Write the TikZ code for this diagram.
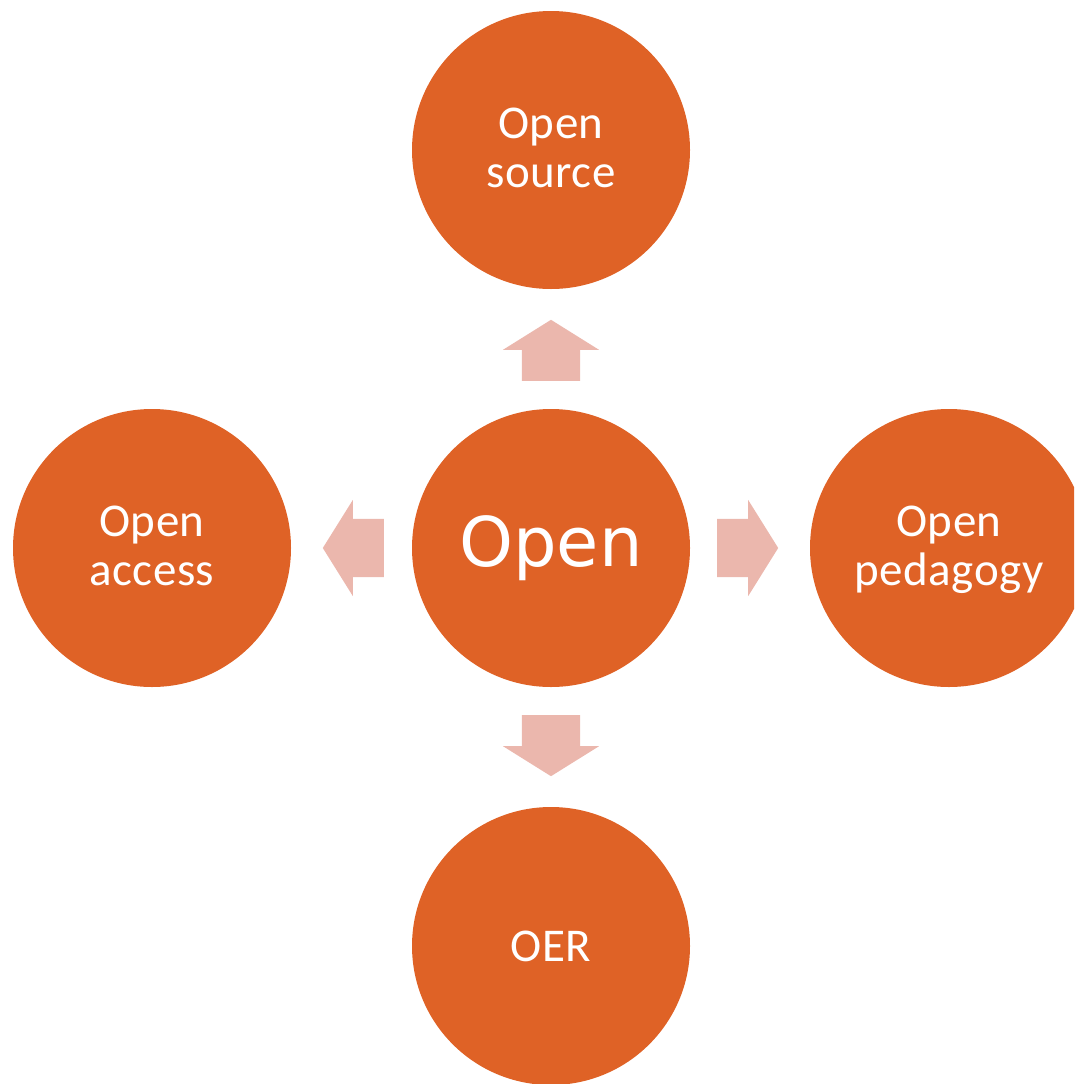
\documentclass[tikz,border=0pt]{standalone}
\usepackage{fontspec}
\setmainfont{Carlito}[LetterSpace=1]
\newfontfamily\bigfont{DejaVu Sans}
\usetikzlibrary{shapes.arrows,calc}
\definecolor{openorange}{RGB}{223,98,38}
\definecolor{arrowpink}{RGB}{235,183,173}
\newcommand{\linestrut}{\vrule height 37pt depth 12pt width 0pt}

\begin{document}
\begin{tikzpicture}[x=1pt, y=-1pt,
    bubble/.style={circle, fill=openorange, minimum size=278pt, inner sep=0pt, text=white, align=center, font=\fontsize{47}{49}\selectfont},
    blockarrow/.style={single arrow, fill=arrowpink, minimum height=61pt, inner xsep=0pt, inner ysep=29pt, single arrow head extend=19pt, single arrow tip angle=116, anchor=tail}]
    \useasboundingbox (0,0) rectangle (1074,1084);
    \clip (0,0) rectangle (1074,1084);
    % the five circles
    \node[bubble, font=\bigfont\fontsize{68.6}{80}\selectfont] (open) at (551,548) {Open};
    \node[bubble] (source) at (551,150) {\linestrut Open\\\linestrut source};
    \node[bubble] (access) at (152,548) {\linestrut Open\\\linestrut access};
    \node[bubble] (pedagogy) at (949,548) {\linestrut Open\\\linestrut pedagogy};
    \node[bubble] (oer) at (551,946) {OER};
    % the block arrows
    \node[blockarrow, rotate=90] (tosource) at ($(open)!167pt!(source)$) {};
    \node[blockarrow, rotate=180] (toaccess) at ($(open)!167pt!(access)$) {};
    \node[blockarrow] (topedagogy) at ($(open)!166pt!(pedagogy)$) {};
    \node[blockarrow, rotate=270] (tooer) at ($(open)!167pt!(oer)$) {};
\end{tikzpicture}
\end{document}
